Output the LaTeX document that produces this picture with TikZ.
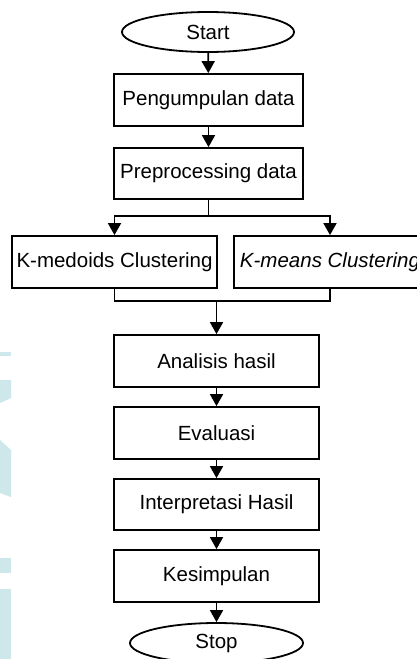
\documentclass[tikz,border=0pt]{standalone}
\usepackage{fontspec}
\setmainfont{Liberation Sans}
\usetikzlibrary{shapes.geometric,arrows.meta}
\definecolor{wm}{RGB}{206,231,235}
\tikzset{
  stepbox/.style={draw, line width=1.8pt, rectangle, minimum height=52pt, inner sep=0pt, font=\fontsize{20.5}{24}\selectfont},
  term/.style={draw, line width=1.8pt, ellipse, minimum width=172pt, minimum height=40pt, inner sep=0pt, font=\fontsize{20.5}{24}\selectfont},
  conn/.style={line width=1.8pt},
  arr/.style={conn, -{Triangle[length=12pt,width=13pt]}}
}
\begin{document}
\begin{tikzpicture}[x=1pt,y=-1pt]
\clip (0,0) rectangle (417,659);
\fill[white] (0,0) rectangle (417,659);
% watermark fragments
\fill[wm] (0,352) rectangle (11,356);
\fill[wm] (0,380) -- (11,380) -- (11,398) -- (0,403) -- cycle;
\fill[wm] (0,440) -- (11,450) -- (11,497) -- (0,493) -- cycle;
\fill[wm] (0,558) rectangle (11,573);
\fill[wm] (0,589) rectangle (11,659);
% nodes
\node[term] (start) at (208,32) {Start};
\node[stepbox, minimum width=189pt] (p1) at (208.5,100) {Pengumpulan data};
\node[stepbox, minimum width=189pt, minimum height=51pt] (p2) at (208.5,173.5) {Preprocessing data};
\node[stepbox, minimum width=205pt] (kmed) at (114.5,262) {K-medoids Clustering};
\node[stepbox, minimum width=192pt] (kmeans) at (330,262) {\itshape K-means Clustering};
\node[stepbox, minimum width=205pt] (ana) at (216.5,361) {Analisis hasil};
\node[stepbox, minimum width=205pt] (eva) at (216.5,433) {Evaluasi};
\node[stepbox, minimum width=205pt, minimum height=51pt] (inter) at (216.5,504.5) {Interpretasi Hasil};
\node[stepbox, minimum width=205pt] (kes) at (216.5,576) {Kesimpulan};
\node[term, minimum width=173pt] (stop) at (216.5,643) {Stop};
% connectors
\draw[arr] (start) -- (p1);
\draw[arr] (p1) -- (p2);
\coordinate (split) at (208.5,216);
\draw[conn] (p2.south) -- (split);
\draw[arr] (split) -| (kmed.north);
\draw[arr] (split) -| (kmeans.north);
\coordinate (merge) at (216.5,301);
\draw[conn] (kmed.south) |- (merge);
\draw[conn] (kmeans.south) |- (merge);
\draw[arr] (merge) -- (ana.north);
\draw[arr] (ana) -- (eva);
\draw[arr] (eva) -- (inter);
\draw[arr] (inter) -- (kes);
\draw[arr] (kes) -- (stop);
\end{tikzpicture}
\end{document}
